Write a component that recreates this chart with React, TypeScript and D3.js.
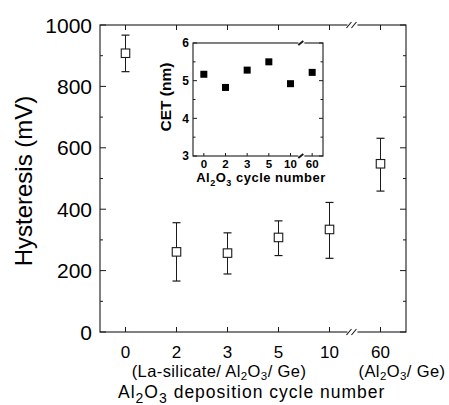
import React from "react";
import * as d3 from "d3";

const categories = ["0", "2", "3", "5", "10", "60"];
const hysteresis = [908, 261, 257, 308, 334, 548];
const errHigh = [967, 356, 323, 362, 422, 631];
const errLow = [848, 166, 189, 249, 240, 459];
const yTicks = [0, 200, 400, 600, 800, 1000];
const yMinor = [100, 300, 500, 700, 900];

const cet = [5.17, 4.82, 5.28, 5.5, 4.92, 5.22];
const cetTicks = [3, 4, 5, 6];
const cetMinor = [3.5, 4.5, 5.5];

const W = 449;
const H = 405;
const FONT = "Arial, 'Liberation Sans', Helvetica, sans-serif";
const INK = "#1a1a1a";

export default function App() {
  const x = d3.scaleLinear().domain([-0.5, 5.5]).range([100, 406]);
  const y = d3.scaleLinear().domain([0, 1000]).range([332, 25]);
  const xi = d3.scaleLinear().domain([-0.5, 5.5]).range([193, 323]);
  const yi = d3.scaleLinear().domain([3, 6]).range([156, 43]);

  const [x0, x1] = x.range();
  const [yb, yt] = y.range();
  const brk = x(4.45);
  const ibrk = xi(4.5);
  const [ix0, ix1] = xi.range();
  const [iyb, iyt] = yi.range();
  const sq = 8.5;
  const cap = 4;

  const sub = (t: string, s: number, d: number) => (
    <tspan fontSize={s} dy={d}>{t}</tspan>
  );

  return (
    <svg width={W} height={H} style={{ position: "absolute", left: 0, top: 0, background: "#fff" }} fontFamily={FONT}>
      <rect width={W} height={H} fill="#fff" />
      {/* main frame */}
      <rect x={x0} y={yt} width={x1 - x0} height={yb - yt} fill="none" stroke={INK} strokeWidth={1.1} />
      {yTicks.map((v) => (
        <g key={"yt" + v}>
          <line x1={x0} x2={x0 + 6} y1={y(v)} y2={y(v)} stroke={INK} />
          <line x1={x1} x2={x1 - 6} y1={y(v)} y2={y(v)} stroke={INK} />
          <text x={92} y={y(v)} dy="0.36em" textAnchor="end" fontSize={21} fill="#000">{v}</text>
        </g>
      ))}
      {yMinor.map((v) => (
        <g key={"ym" + v}>
          <line x1={x0} x2={x0 + 3} y1={y(v)} y2={y(v)} stroke={INK} />
          <line x1={x1} x2={x1 - 3} y1={y(v)} y2={y(v)} stroke={INK} />
        </g>
      ))}
      {categories.map((c, i) => (
        <g key={"xt" + c}>
          <line x1={x(i)} x2={x(i)} y1={yb} y2={yb - 5} stroke={INK} />
          <line x1={x(i)} x2={x(i)} y1={yt} y2={yt + 5} stroke={INK} />
          <text x={x(i)} y={357.5} textAnchor="middle" fontSize={17} fill="#000">{c}</text>
        </g>
      ))}
      {[yt, yb].map((yy, k) => (
        <g key={"br" + k}>
          <rect x={brk - 5} y={yy - 2} width={10} height={4} fill="#fff" />
          <line x1={brk - 6} x2={brk - 1} y1={yy + 3} y2={yy - 3} stroke={INK} strokeWidth={1.1} />
          <line x1={brk - 1} x2={brk + 4} y1={yy + 3} y2={yy - 3} stroke={INK} strokeWidth={1.1} />
        </g>
      ))}
      {hysteresis.map((v, i) => (
        <g key={"pt" + i}>
          <line x1={x(i)} x2={x(i)} y1={y(errLow[i])} y2={y(errHigh[i])} stroke={INK} strokeWidth={1} />
          <line x1={x(i) - cap} x2={x(i) + cap} y1={y(errLow[i])} y2={y(errLow[i])} stroke={INK} strokeWidth={1.2} />
          <line x1={x(i) - cap} x2={x(i) + cap} y1={y(errHigh[i])} y2={y(errHigh[i])} stroke={INK} strokeWidth={1.2} />
          <rect x={x(i) - sq / 2} y={y(v) - sq / 2} width={sq} height={sq} fill="#fff" stroke={INK} strokeWidth={1.1} />
        </g>
      ))}
      <text transform={`translate(32,${181}) rotate(-90)`} textAnchor="middle" fontSize={24} fill="#000">Hysteresis (mV)</text>
      <text x={219} y={376.5} textAnchor="middle" fontSize={16.5} letterSpacing={0.4} fill="#000">
        (La-silicate/ Al{sub("2", 11.5, 3)}<tspan dy={-3}>O</tspan>{sub("3", 11.5, 3)}<tspan dy={-3}>/ Ge)</tspan>
      </text>
      <text x={402} y={376.5} textAnchor="middle" fontSize={16.5} letterSpacing={0.4} fill="#000">
        (Al{sub("2", 11.5, 3)}<tspan dy={-3}>O</tspan>{sub("3", 11.5, 3)}<tspan dy={-3}>/ Ge)</tspan>
      </text>
      <text x={118} y={398} textAnchor="start" fontSize={17.5} letterSpacing={1} fill="#000">
        Al{sub("2", 14, 5)}<tspan dy={-5}>O</tspan>{sub("3", 14, 5)}<tspan dy={-5}> deposition cycle number</tspan>
      </text>

      {/* inset */}
      <rect x={ix0} y={iyt} width={ix1 - ix0} height={iyb - iyt} fill="#fff" stroke={INK} strokeWidth={1.1} />
      {cetTicks.map((v) => (
        <g key={"it" + v}>
          <line x1={ix0} x2={ix0 + 4} y1={yi(v)} y2={yi(v)} stroke={INK} />
          <line x1={ix1} x2={ix1 - 4} y1={yi(v)} y2={yi(v)} stroke={INK} />
          <text x={189} y={yi(v)} dy="0.36em" textAnchor="end" fontSize={12} fontWeight="bold" fill="#000">{v}</text>
        </g>
      ))}
      {cetMinor.map((v) => (
        <g key={"im" + v}>
          <line x1={ix0} x2={ix0 + 2.5} y1={yi(v)} y2={yi(v)} stroke={INK} />
          <line x1={ix1} x2={ix1 - 2.5} y1={yi(v)} y2={yi(v)} stroke={INK} />
        </g>
      ))}
      {categories.map((c, i) => (
        <g key={"ix" + c}>
          <line x1={xi(i)} x2={xi(i)} y1={iyb} y2={iyb - 3} stroke={INK} />
          <text x={xi(i)} y={167.5} textAnchor="middle" fontSize={11.5} fontWeight="bold" fill="#000">{c}</text>
        </g>
      ))}
      {[iyt, iyb].map((yy, k) => (
        <g key={"ibr" + k}>
          <rect x={ibrk - 3} y={yy - 1.5} width={6} height={3} fill="#fff" />
          <line x1={ibrk - 3} x2={ibrk + 2} y1={yy + 2} y2={yy - 2} stroke={INK} strokeWidth={2} />
        </g>
      ))}
      {cet.map((v, i) => (
        <rect key={"c" + i} x={xi(i) - 3.5} y={yi(v) - 3.5} width={7} height={7} fill="#000" />
      ))}
      <text transform={`translate(170.5,${97}) rotate(-90)`} textAnchor="middle" fontSize={15.5} fontWeight="bold" fill="#000">CET (nm)</text>
      <text x={261} y={182} textAnchor="middle" fontSize={13} letterSpacing={0.5} fontWeight="bold" fill="#000">
        Al{sub("2", 9, 3.5)}<tspan dy={-3.5}>O</tspan>{sub("3", 9, 3.5)}<tspan dy={-3.5}> cycle number</tspan>
      </text>
    </svg>
  );
}
